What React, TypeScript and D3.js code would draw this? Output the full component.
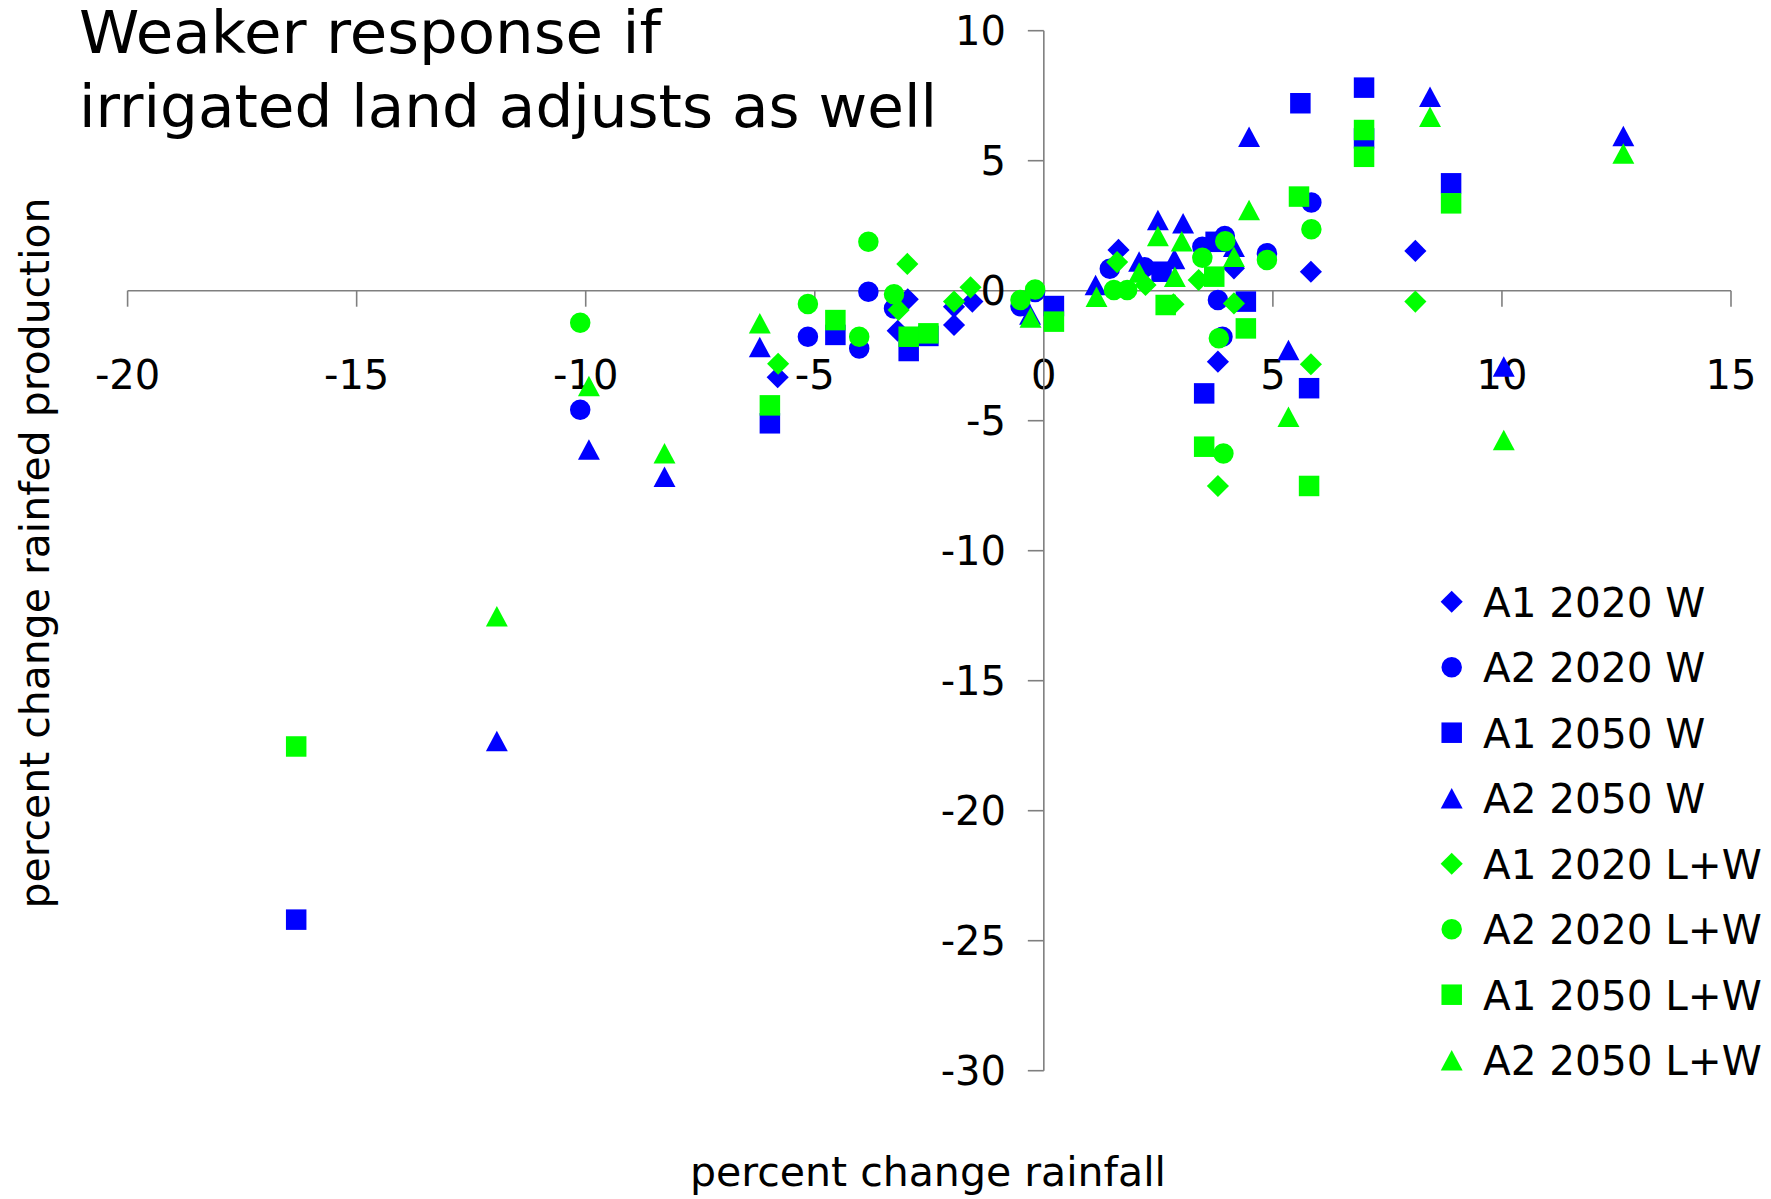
import React from "react";
import * as d3 from "d3";

type Pt = [number, number];

// percent change rainfall (x) vs percent change rainfed production (y)
const a1_2020_W: Pt[] = [
  [-5.81, -3.33], [-3.19, -1.54], [-2.97, -0.33], [-1.96, -1.32], [-1.96, -0.62],
  [-1.56, -0.42], [1.63, 1.57], [4.15, 0.86], [3.8, -2.73], [5.83, 0.73], [8.11, 1.53],
];
const a2_2020_W: Pt[] = [
  [-10.12, -4.58], [-5.15, -1.77], [-4.03, -2.22], [-3.83, -0.04], [-3.27, -0.68],
  [-0.51, -0.6], [-0.19, -0.05], [1.44, 0.84], [2.2, 0.9], [3.46, 1.69], [3.95, 2.1],
  [3.8, -0.36], [3.9, -1.77], [4.87, 1.44], [5.84, 3.39],
];
const a1_2050_W: Pt[] = [
  [-16.32, -24.19], [-5.98, -5.1], [-4.55, -1.7], [-2.95, -2.32], [-2.52, -1.74],
  [0.22, -0.59], [2.57, 0.73], [3.75, 1.88], [4.41, -0.42], [3.5, -3.95],
  [5.6, 7.21], [5.79, -3.75], [6.99, 7.81], [6.99, 5.86], [8.89, 4.13],
];
const a2_2050_W: Pt[] = [
  [-11.94, -17.32], [-9.93, -6.11], [-8.28, -7.16], [-6.2, -2.17], [-0.3, -0.92],
  [1.13, 0.22], [2.08, 1.12], [2.49, 2.72], [3.04, 2.59], [2.85, 1.22], [4.15, 1.69],
  [4.48, 5.92], [5.34, -2.28], [8.43, 7.46], [10.04, -2.92], [12.65, 5.95],
];
const a1_2020_LW: Pt[] = [
  [-5.8, -2.81], [-3.17, -0.74], [-2.98, 1.03], [-1.96, -0.42], [-1.6, 0.13],
  [1.6, 1.1], [2.22, 0.22], [2.83, -0.52], [3.38, 0.41], [4.15, -0.49],
  [3.8, -7.51], [5.83, -2.83], [8.11, -0.42],
];
const a2_2020_LW: Pt[] = [
  [-10.12, -1.23], [-5.15, -0.51], [-4.03, -1.77], [-3.83, 1.88], [-3.27, -0.14],
  [-0.51, -0.36], [-0.19, 0.05], [1.53, 0.03], [1.82, 0.03], [3.46, 1.27], [3.96, 1.9],
  [3.82, -1.83], [3.92, -6.26], [4.87, 1.18], [5.84, 2.36],
];
const a1_2050_LW: Pt[] = [
  [-16.32, -17.53], [-5.98, -4.41], [-4.55, -1.13], [-2.95, -1.77], [-2.52, -1.64],
  [0.22, -1.19], [2.66, -0.55], [3.5, -6.0], [3.72, 0.54], [4.41, -1.45],
  [5.57, 3.62], [5.79, -7.51], [6.99, 6.18], [6.99, 5.15], [8.89, 3.36],
];
const a2_2050_LW: Pt[] = [
  [-11.94, -12.52], [-9.93, -3.67], [-8.28, -6.25], [-6.2, -1.25], [-0.29, -1.03],
  [1.15, -0.23], [2.08, 0.7], [2.49, 2.1], [3.01, 1.9], [2.86, 0.54], [4.15, 1.31],
  [4.48, 3.1], [5.34, -4.85], [8.43, 6.69], [10.04, -5.74], [12.65, 5.28],
];

const seriesNames = [
  "A1 2020 W", "A2 2020 W", "A1 2050 W", "A2 2050 W",
  "A1 2020 L+W", "A2 2020 L+W", "A1 2050 L+W", "A2 2050 L+W",
];
const seriesData = [
  a1_2020_W, a2_2020_W, a1_2050_W, a2_2050_W,
  a1_2020_LW, a2_2020_LW, a1_2050_LW, a2_2050_LW,
];
const seriesColors = ["#0000FF", "#0000FF", "#0000FF", "#0000FF", "#00FF00", "#00FF00", "#00FF00", "#00FF00"];
const seriesShapes = ["diamond", "circle", "square", "triangle", "diamond", "circle", "square", "triangle"];

const xTicks = [-20, -15, -10, -5, 0, 5, 10, 15];
const yTicks = [10, 5, 0, -5, -10, -15, -20, -25, -30];

const titleLines = ["Weaker response if", "irrigated land adjusts as well"];
const xTitle = "percent change rainfall";
const yTitle = "percent change rainfed production";

const W = 1771;
const H = 1199;
const FONT = "'Comic Sans MS', 'DejaVu Sans', sans-serif";
const TICK_FONT = "'DejaVu Sans', 'Liberation Sans', sans-serif";
const AXIS = "#7f7f7f";

function markerPath(shape: string, s: number): string {
  const h = s / 2;
  switch (shape) {
    case "diamond": {
      const d = h * 1.08;
      return `M0,${-d}L${d},0L0,${d}L${-d},0Z`;
    }
    case "square":
      return `M${-h},${-h}H${h}V${h}H${-h}Z`;
    case "triangle": {
      const w = h * 1.07;
      return `M0,${-h}L${w},${h}L${-w},${h}Z`;
    }
    default:
      return d3.arc()({ innerRadius: 0, outerRadius: h, startAngle: 0, endAngle: 2 * Math.PI }) as string;
  }
}

export default function App() {
  const x = d3.scaleLinear().domain([-20, 15]).range([127.6, 1731]);
  const y = d3.scaleLinear().domain([-30, 10]).range([1070.7, 30.7]);
  const x0 = x(0);
  const y0 = y(0);
  const markSize = 20.5;

  return (
    <svg
      width={W}
      height={H}
      viewBox={`0 0 ${W} ${H}`}
      style={{ position: "absolute", left: 0, top: 0, background: "#fff" }}
    >
      <rect x={0} y={0} width={W} height={H} fill="#fff" />

      {/* horizontal axis through y = 0 */}
      <line x1={x(-20)} x2={x(15)} y1={y0} y2={y0} stroke={AXIS} strokeWidth={1.6} />
      {xTicks.map((t) => (
        <g key={`xt${t}`}>
          <line x1={x(t)} x2={x(t)} y1={y0} y2={y0 + 16} stroke={AXIS} strokeWidth={1.6} />
          <text
            x={x(t)}
            y={389}
            textAnchor="middle"
            fontFamily={TICK_FONT}
            fontSize={40}
            fill="#000"
          >
            {t}
          </text>
        </g>
      ))}

      {/* vertical axis through x = 0 */}
      <line x1={x0} x2={x0} y1={y(10)} y2={y(-30)} stroke={AXIS} strokeWidth={1.6} />
      {yTicks.map((t) => (
        <g key={`yt${t}`}>
          <line x1={x0 - 16} x2={x0} y1={y(t)} y2={y(t)} stroke={AXIS} strokeWidth={1.6} />
          <text
            x={1006}
            y={y(t) + 14}
            textAnchor="end"
            fontFamily={TICK_FONT}
            fontSize={40}
            fill="#000"
          >
            {t}
          </text>
        </g>
      ))}

      {/* data points, series drawn in legend order */}
      {seriesData.map((pts, si) => (
        <g key={`s${si}`} fill={seriesColors[si]}>
          {pts.map((p, i) => (
            <path
              key={i}
              d={markerPath(seriesShapes[si], markSize)}
              transform={`translate(${x(p[0])},${y(p[1])})`}
            />
          ))}
        </g>
      ))}

      {/* title */}
      <text x={79} y={53} fontFamily={FONT} fontSize={58} fill="#000" textLength={582} lengthAdjust="spacingAndGlyphs">
        {titleLines[0]}
      </text>
      <text x={79} y={127} fontFamily={FONT} fontSize={58} fill="#000" textLength={858} lengthAdjust="spacingAndGlyphs">
        {titleLines[1]}
      </text>

      {/* axis titles */}
      <text
        x={928}
        y={1186}
        textAnchor="middle"
        fontFamily={FONT}
        fontSize={40}
        fill="#000"
        textLength={476}
        lengthAdjust="spacingAndGlyphs"
      >
        {xTitle}
      </text>
      <text
        transform={`translate(49,553) rotate(-90)`}
        textAnchor="middle"
        fontFamily={FONT}
        fontSize={40}
        fill="#000"
        textLength={711}
        lengthAdjust="spacingAndGlyphs"
      >
        {yTitle}
      </text>

      {/* legend */}
      {seriesNames.map((name, i) => {
        const ly = 601.7 + i * 65.5;
        return (
          <g key={`lg${i}`}>
            <path
              d={markerPath(seriesShapes[i], markSize)}
              transform={`translate(${1451.7},${ly})`}
              fill={seriesColors[i]}
            />
            <text x={1483} y={ly + 15} fontFamily={FONT} fontSize={40.5} fill="#000">
              {name}
            </text>
          </g>
        );
      })}
    </svg>
  );
}
